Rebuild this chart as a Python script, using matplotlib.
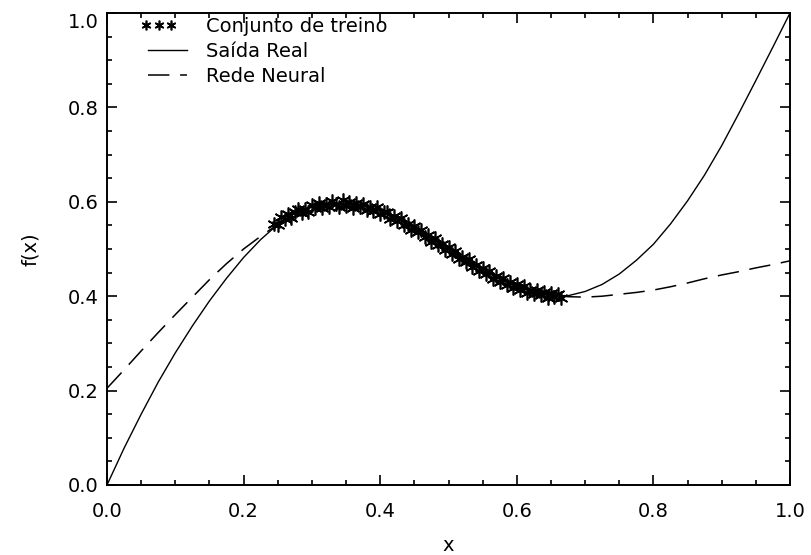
import numpy as np
import matplotlib
matplotlib.use('Agg')
import matplotlib.pyplot as plt
from matplotlib.ticker import MultipleLocator, FormatStrFormatter
from matplotlib.legend_handler import HandlerLine2D

plt.rcParams['font.family'] = ['DejaVu Sans']

# curva real
x_real = [0.000, 0.025, 0.050, 0.075, 0.100, 0.125, 0.150, 0.175, 0.200, 0.225,
          0.250, 0.275, 0.300, 0.325, 0.350, 0.375, 0.400, 0.425, 0.450, 0.475,
          0.500, 0.525, 0.550, 0.575, 0.600, 0.625, 0.650, 0.675, 0.700, 0.725,
          0.750, 0.775, 0.800, 0.825, 0.850, 0.875, 0.900, 0.925, 0.950, 0.975, 1.000]
y_real = [0.000, 0.078, 0.150, 0.218, 0.280, 0.337, 0.390, 0.438, 0.482, 0.520,
          0.552, 0.575, 0.589, 0.595, 0.596, 0.591, 0.580, 0.564, 0.544, 0.522,
          0.499, 0.476, 0.455, 0.436, 0.420, 0.409, 0.402, 0.401, 0.410, 0.425,
          0.447, 0.476, 0.510, 0.553, 0.602, 0.657, 0.719, 0.787, 0.857, 0.928, 1.000]

# saida da rede neural
x_rede = x_real
y_rede = [0.205, 0.244, 0.284, 0.323, 0.361, 0.398, 0.435, 0.469, 0.500, 0.527,
          0.552, 0.575, 0.589, 0.595, 0.596, 0.591, 0.580, 0.564, 0.544, 0.522,
          0.499, 0.476, 0.455, 0.436, 0.420, 0.409, 0.402, 0.399, 0.398, 0.400,
          0.404, 0.408, 0.413, 0.420, 0.428, 0.437, 0.445, 0.452, 0.460, 0.467, 0.475]

# conjunto de treino
x_treino = [0.245, 0.250, 0.255, 0.260, 0.265, 0.270, 0.275, 0.280, 0.285, 0.290,
            0.295, 0.300, 0.305, 0.310, 0.315, 0.320, 0.325, 0.330, 0.335, 0.340,
            0.345, 0.350, 0.355, 0.360, 0.365, 0.370, 0.375, 0.380, 0.385, 0.390,
            0.395, 0.400, 0.405, 0.410, 0.415, 0.420, 0.425, 0.430, 0.435, 0.440,
            0.445, 0.450, 0.455, 0.460, 0.465, 0.470, 0.475, 0.480, 0.485, 0.490,
            0.495, 0.500, 0.505, 0.510, 0.515, 0.520, 0.525, 0.530, 0.535, 0.540,
            0.545, 0.550, 0.555, 0.560, 0.565, 0.570, 0.575, 0.580, 0.585, 0.590,
            0.595, 0.600, 0.605, 0.610, 0.615, 0.620, 0.625, 0.630, 0.635, 0.640,
            0.645, 0.650, 0.655, 0.660, 0.665]
y_treino = [0.554, 0.550, 0.567, 0.563, 0.574, 0.566, 0.578, 0.585, 0.577, 0.585,
            0.578, 0.593, 0.586, 0.598, 0.587, 0.596, 0.588, 0.601, 0.596, 0.590,
            0.603, 0.592, 0.600, 0.587, 0.597, 0.590, 0.596, 0.582, 0.589, 0.580,
            0.588, 0.574, 0.578, 0.579, 0.563, 0.570, 0.559, 0.566, 0.550, 0.554,
            0.540, 0.548, 0.537, 0.541, 0.526, 0.530, 0.515, 0.524, 0.509, 0.511,
            0.497, 0.504, 0.490, 0.496, 0.478, 0.484, 0.473, 0.479, 0.462, 0.467,
            0.453, 0.460, 0.448, 0.453, 0.436, 0.442, 0.431, 0.439, 0.424, 0.430,
            0.417, 0.425, 0.414, 0.421, 0.406, 0.414, 0.404, 0.413, 0.402, 0.408,
            0.397, 0.407, 0.399, 0.405, 0.396]


class StarHandler(HandlerLine2D):
    # tres asteriscos pequenos e juntos, como no original
    def get_xdata(self, legend, xdescent, ydescent, width, height, fontsize):
        x = np.linspace(-xdescent + 0.2 * fontsize, -xdescent + 1.5 * fontsize, 3)
        return x, x

    def create_artists(self, *args, **kwargs):
        arts = super().create_artists(*args, **kwargs)
        for a in arts:
            a.set_markersize(7)
        return arts


fig = plt.figure(figsize=(8.12, 5.55), dpi=100, facecolor='w')
ax = fig.add_axes([107/812, 70/555, 683/812, 472/555])

pts, = ax.plot(x_treino, y_treino, linestyle='none', marker=(6, 2, 0), markersize=10,
               markeredgewidth=1.2, color='k', label='Conjunto de treino')
ax.plot(x_real, y_real, color='k', lw=1.0, label='Saída Real')
ax.plot(x_rede, y_rede, color='k', lw=1.1, dashes=(14, 7), label='Rede Neural')

ax.set_xlim(0, 1)
ax.set_ylim(0, 1)
ax.xaxis.set_major_locator(MultipleLocator(0.2))
ax.xaxis.set_minor_locator(MultipleLocator(0.05))
ax.yaxis.set_major_locator(MultipleLocator(0.2))
ax.yaxis.set_minor_locator(MultipleLocator(0.05))
ax.xaxis.set_major_formatter(FormatStrFormatter('%.1f'))
ax.yaxis.set_major_formatter(FormatStrFormatter('%.1f'))
ax.tick_params(which='both', direction='in', top=True, right=True, width=1.2, labelsize=14)
ax.tick_params(which='major', length=7)
ax.tick_params(which='minor', length=3.5)
ax.tick_params(axis='x', pad=12)
ax.tick_params(axis='y', pad=6)
for s in ax.spines.values():
    s.set_linewidth(1.4)

ax.set_xlabel('x', fontsize=14, labelpad=11)
ax.set_ylabel('f(x)', fontsize=14, labelpad=20)

leg = ax.legend(loc='upper left', bbox_to_anchor=(142/812, 1 - 17/555),
                bbox_transform=fig.transFigure, frameon=False, fontsize=14,
                borderpad=0, borderaxespad=0, handlelength=2.6, handletextpad=0.7,
                labelspacing=0.3, numpoints=3, handler_map={pts: StarHandler()})

# o rotulo 1.0 do eixo y fica abaixo da marca, como no original
fig.canvas.draw()
for t in ax.yaxis.get_major_ticks():
    if t.label1.get_text() == '1.0':
        t.label1.set_verticalalignment('top')

plt.savefig('out.png', dpi=100)
